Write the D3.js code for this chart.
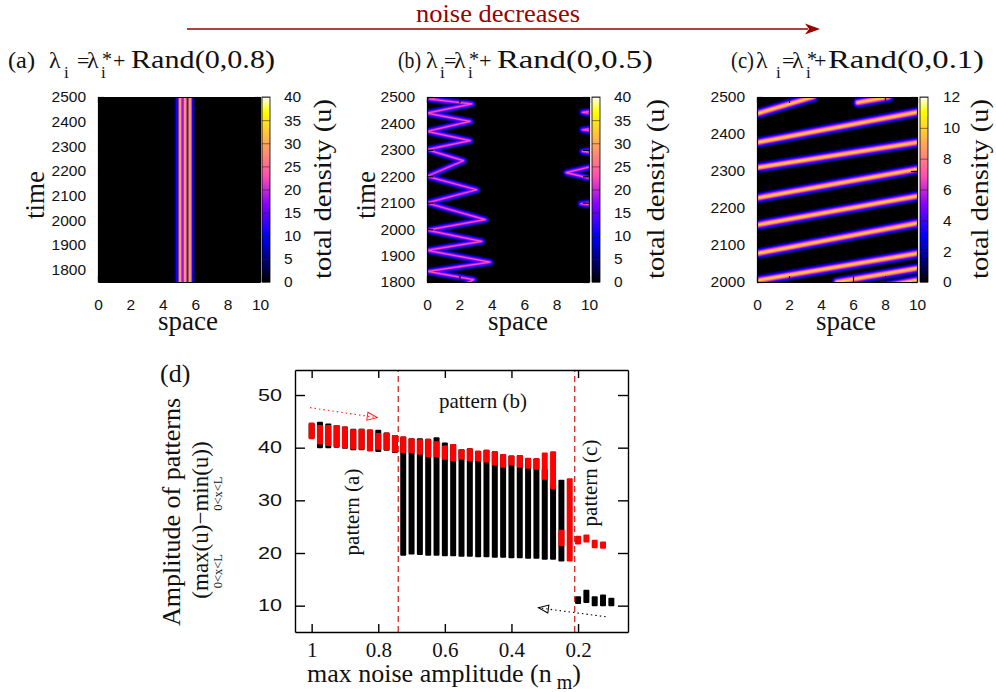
<!DOCTYPE html>
<meta charset="utf-8">
<style>
body { margin: 0; background: #fff; }
svg { display: block; }
</style>
<body>
<script src="https://cdn.jsdelivr.net/npm/d3@7/dist/d3.min.js"></script>
<script>
var W = 996, H = 692;
var SERIF = "'Liberation Serif', 'Times New Roman', serif",
    SANS = "'Liberation Sans', Arial, sans-serif";

// ---------- data ----------
var spaceTicks = [0, 2, 4, 6, 8, 10];
var timeTicksAB = [1800, 1900, 2000, 2100, 2200, 2300, 2400, 2500];
var timeTicksC = [2000, 2100, 2200, 2300, 2400, 2500];
var densTicks40 = [0, 5, 10, 15, 20, 25, 30, 35, 40];
var densTicks12 = [0, 2, 4, 6, 8, 10, 12];

// (a) stationary two-peak profile: band edges in space, density inside each band
var aEdges  = [4.72, 4.80, 4.97, 5.17, 5.28, 5.48, 5.58, 5.79, 5.90, 5.96];
var aLevels = [4, 11, 28, 18, 28, 14, 28, 11, 4];

// (b) zig-zag path of the moving peak (space, time)
var bSpace = [2.3, 2.87, 0.05, 3.89, 0.0, 3.38, 0.0, 3.59, 0.0, 3.07, 0.0, 2.25, 0.0, 2.66, 0.0, 2.66, 0.0, 2.77, 0.15, 1.6];
var bTime  = [1790, 1809, 1840, 1875, 1920, 1954, 1996, 2036, 2099, 2149, 2200, 2259, 2301, 2335, 2370, 2408, 2439, 2474, 2492, 2512];
// (b) short peaks entering from the right boundary
var bBlipTime  = [2442, 2376, 2294, 2214, 2096];
var bBlipSpace = [9.6, 9.6, 9.6, 8.6, 9.5];
var bBlipSpan  = [6, 6, 6, 25, 6];

// (c) travelling stripes: start / end points
var cX0 = [0, 0, 0, 0, 0, 0, 0, 0, 5.0, 6.3];
var cT0 = [1927, 2004, 2077, 2154, 2227, 2309, 2377, 2455, 2000, 2485];
var cX1 = [10, 10, 10, 10, 10, 10, 10, 3.5, 10, 8.2];
var cT1 = [2005, 2077, 2159, 2232, 2305, 2377, 2459, 2500, 2037, 2500];

// (d) amplitude ranges vs max noise amplitude
var noise = [1, 0.975, 0.95, 0.925, 0.9, 0.875, 0.85, 0.825, 0.8, 0.775, 0.75, 0.725, 0.7, 0.675, 0.65, 0.625,
             0.6, 0.575, 0.55, 0.525, 0.5, 0.475, 0.45, 0.425, 0.4, 0.375, 0.35, 0.325, 0.3, 0.275, 0.25, 0.225,
             0.2, 0.175, 0.15, 0.125, 0.1];
var blackHi = [44.6, 44.9, 44.6, 44.3, 44.0, 43.6, 43.6, 43.4, 43.4, 42.9, 42.4, 42.1, 41.8, 41.8, 41.7, 42.0,
               41.0, 40.7, 39.7, 39.9, 39.4, 39.6, 39.3, 38.8, 38.5, 38.6, 38.0, 38.0, 36.0, 33.0, 33.9, null,
               11.8, 13.0, 11.8, 12.1, 11.5];
var blackLo = [41.8, 39.9, 39.9, 40.0, 39.8, 39.5, 39.5, 39.3, 39.2, 39.4, 39.0, 19.5, 19.7, 19.6, 19.5, 19.5,
               19.4, 19.4, 19.3, 19.3, 19.2, 19.2, 19.1, 19.1, 19.0, 19.0, 18.9, 18.9, 18.7, 18.7, 18.4, null,
               10.3, 10.5, 9.9, 9.9, 9.9];
var redHi = [44.8, 44.3, 44.3, 44.3, 44.0, 43.5, 43.6, 43.5, 42.8, 42.9, 42.4, 42.1, 41.8, 41.6, 41.7, 41.2,
             40.4, 40.7, 39.7, 39.9, 39.4, 39.6, 39.3, 38.8, 38.5, 38.6, 38.1, 38.0, 39.1, 39.3, 24.4, 34.2,
             23.3, 23.5, 22.5, 22.2, null];
var redLo = [41.6, 40.6, 40.3, 40.1, 39.9, 39.7, 39.6, 39.3, 39.6, 39.5, 39.1, 39.0, 39.0, 38.65, 38.2, 38.2,
             37.7, 37.4, 37.7, 37.4, 37.4, 37.2, 36.6, 36.2, 36.6, 36.2, 36.0, 35.8, 33.9, 32.1, 21.3, 18.4,
             21.6, 22.0, 20.9, 20.8, null];
var noiseTicks = [1, 0.8, 0.6, 0.4, 0.2];
var ampTicks = [10, 20, 30, 40, 50];
var regimeBounds = [0.74, 0.21];
var redArrow = [[1.005, 47.6], [0.803, 45.7]];
var blackArrow = [[0.117, 7.9], [0.319, 9.6]];

// ---------- drawing ----------
var svg = d3.select("body").append("svg").attr("width", W).attr("height", H);
svg.append("rect").attr("width", W).attr("height", H).attr("fill", "#fff");
var defs = svg.append("defs");

// gnuplot rgbformulae 30,31,32
function palette(f) {
  f = Math.max(0, Math.min(1, f));
  var r = f / 0.32 - 0.78125,
      g = 2 * f - 0.84,
      b = f < 0.25 ? 4 * f : f < 0.42 ? 1 : f < 0.92 ? -2 * f + 1.84 : f / 0.08 - 11.5;
  var c = function (v) { return Math.round(255 * Math.max(0, Math.min(1, v))); };
  return d3.rgb(c(r), c(g), c(b)).formatHex();
}

function txt(parent, x, y, s, size, opts) {
  opts = opts || {};
  var t = parent.append("text").attr("x", x).attr("y", y)
    .attr("font-family", opts.sans ? SANS : SERIF)
    .attr("font-size", size)
    .attr("fill", opts.fill || "#111")
    .attr("text-anchor", opts.anchor || "start")
    .text(s);
  if (opts.rotate) t.attr("transform", "rotate(-90," + x + "," + y + ")");
  if (opts.len) t.attr("textLength", opts.len).attr("lengthAdjust", "spacingAndGlyphs");
  return t;
}

function labelAxis(sel, family, size) {
  sel.attr("font-family", family).attr("font-size", size);
  sel.select(".domain").remove();
  sel.selectAll("text").attr("fill", "#111");
  return sel;
}

function tickAxis(sel, w, color) {
  sel.selectAll("line, path").attr("stroke", color || "#000").attr("stroke-width", w);
  return sel;
}

var bLayers = [{v: 3, w: 8.5}, {v: 8, w: 6.5}, {v: 13, w: 4.6}, {v: 18, w: 2.8}, {v: 23, w: 1.2}];
var cLayers = [{v: 1.2, w: 11.5}, {v: 2.6, w: 9.5}, {v: 4.4, w: 7.4}, {v: 6.2, w: 5.4}, {v: 8.2, w: 3.6}, {v: 9.8, w: 1.6}];

function drawA(plot, x, y, col) {
  plot.selectAll(".band").data(aLevels).join("rect")
    .attr("class", "band")
    .attr("x", function (d, i) { return x(aEdges[i]); })
    .attr("width", function (d, i) { return x(aEdges[i + 1]) - x(aEdges[i]); })
    .attr("y", y.range()[1]).attr("height", y.range()[0] - y.range()[1])
    .attr("fill", function (d) { return col(d); });
}

function strokeLayers(plot, paths, layers, line, col) {
  layers.forEach(function (l) {
    plot.append("g").selectAll("path").data(paths).join("path")
      .attr("d", line).attr("fill", "none")
      .attr("stroke", col(l.v)).attr("stroke-width", l.w)
      .attr("stroke-linejoin", "round").attr("stroke-linecap", "round");
  });
}

function drawB(plot, x, y, col) {
  var line = d3.line().x(function (d) { return x(d[0]); }).y(function (d) { return y(d[1]); });
  var paths = [d3.zip(bSpace, bTime)];
  bBlipTime.forEach(function (t, i) {
    paths.push([[10.3, t + bBlipSpan[i]], [bBlipSpace[i], t], [10.3, t - bBlipSpan[i]]]);
  });
  strokeLayers(plot, paths, bLayers, line, col);
}

function drawC(plot, x, y, col) {
  var line = d3.line().x(function (d) { return x(d[0]); }).y(function (d) { return y(d[1]); });
  var segs = cX0.map(function (d, i) { return [[cX0[i], cT0[i]], [cX1[i], cT1[i]]]; });
  strokeLayers(plot, segs, cLayers, line, col);
}

var panels = [
  {id: "a", x0: 98, x1: 260, tDomain: [1750, 2500], tTicks: timeTicksAB, vmax: 40, cbTicks: densTicks40,
   cbX: 262, cbLabelX: 284, cbTitleX: 331, timeX: 44, spaceX: 188, draw: drawA},
  {id: "b", x0: 427, x1: 589, tDomain: [1800, 2500], tTicks: timeTicksAB, vmax: 40, cbTicks: densTicks40,
   cbX: 592, cbLabelX: 614, cbTitleX: 664, timeX: 375, spaceX: 518, draw: drawB},
  {id: "c", x0: 757, x1: 917, tDomain: [2000, 2500], tTicks: timeTicksC, vmax: 12, cbTicks: densTicks12,
   cbX: 920, cbLabelX: 943, cbTitleX: 988, timeX: null, spaceX: 846, draw: drawC}
];
var Y0 = 97, Y1 = 282, CBW = 8;

panels.forEach(function (p) {
  var x = d3.scaleLinear().domain([0, 10]).range([p.x0, p.x1]);
  var y = d3.scaleLinear().domain(p.tDomain).range([Y1, Y0]);
  var c = d3.scaleLinear().domain([0, p.vmax]).range([Y1, Y0]);
  var col = function (v) { return palette(v / p.vmax); };

  defs.append("clipPath").attr("id", "clip-" + p.id).append("rect")
    .attr("x", p.x0).attr("y", Y0).attr("width", p.x1 - p.x0).attr("height", Y1 - Y0);
  var g = svg.append("g");
  var plot = g.append("g").attr("clip-path", "url(#clip-" + p.id + ")");
  plot.append("rect").attr("x", p.x0).attr("y", Y0).attr("width", p.x1 - p.x0).attr("height", Y1 - Y0)
    .attr("fill", "#000");
  p.draw(plot, x, y, col);

  // inward black ticks
  tickAxis(g.append("g").attr("transform", "translate(0," + Y1 + ")")
    .call(d3.axisBottom(x).tickValues(spaceTicks).tickSize(-6).tickSizeOuter(0).tickFormat("")), 1.2);
  tickAxis(g.append("g").attr("transform", "translate(0," + Y0 + ")")
    .call(d3.axisTop(x).tickValues(spaceTicks).tickSize(-6).tickSizeOuter(0).tickFormat("")), 1.2);
  tickAxis(g.append("g").attr("transform", "translate(" + p.x0 + ",0)")
    .call(d3.axisLeft(y).tickValues(p.tTicks).tickSize(-6).tickSizeOuter(0).tickFormat("")), 1.2);
  tickAxis(g.append("g").attr("transform", "translate(" + p.x1 + ",0)")
    .call(d3.axisRight(y).tickValues(p.tTicks).tickSize(-6).tickSizeOuter(0).tickFormat("")), 1.2);

  // tick labels
  labelAxis(g.append("g").attr("transform", "translate(0," + Y1 + ")")
    .call(d3.axisBottom(x).tickValues(spaceTicks).tickSize(0).tickPadding(17)), SANS, 15.5);
  labelAxis(g.append("g").attr("transform", "translate(" + p.x0 + ",0)")
    .call(d3.axisLeft(y).tickValues(p.tTicks).tickSize(0).tickPadding(12).tickFormat(d3.format("d"))), SANS, 15.5);

  // colour box
  var gid = "grad-" + p.id;
  var grad = defs.append("linearGradient").attr("id", gid)
    .attr("x1", 0).attr("y1", 1).attr("x2", 0).attr("y2", 0);
  d3.range(0, 1.0001, 0.02).forEach(function (f) {
    grad.append("stop").attr("offset", f).attr("stop-color", palette(f));
  });
  g.append("rect").attr("x", p.cbX).attr("y", Y0).attr("width", CBW).attr("height", Y1 - Y0)
    .attr("fill", "url(#" + gid + ")").attr("stroke", "#000").attr("stroke-width", 0.8);
  var cbt = g.append("g").attr("transform", "translate(" + p.cbX + ",0)")
    .call(d3.axisRight(c).tickValues(p.cbTicks).tickSize(CBW).tickSizeOuter(0).tickFormat(""));
  cbt.select(".domain").remove();
  tickAxis(cbt, 1, "#222").attr("opacity", 0.55);
  labelAxis(g.append("g").attr("transform", "translate(" + p.cbX + ",0)")
    .call(d3.axisRight(c).tickValues(p.cbTicks).tickSize(0).tickPadding(p.cbLabelX - p.cbX)), SANS, 15.5);

  // axis titles
  txt(svg, p.spaceX, 330, "space", 27, {anchor: "middle"});
  if (p.timeX) txt(svg, p.timeX, 195, "time", 27, {anchor: "middle", rotate: true});
  txt(svg, p.cbTitleX, 189, "total density (u)", 26, {anchor: "middle", rotate: true, len: 180});
});

// panel titles  λ_i = λ*_i + Rand(...)
function lambdaTitle(tag, rand, pos) {
  var base = 68;
  txt(svg, pos[0], base, tag, 24, {len: pos[9]});
  txt(svg, pos[1], base, "\u03bb", 24);
  txt(svg, pos[2], base + 10, "i", 17);
  txt(svg, pos[3], base, "=", 22);
  txt(svg, pos[4], base, "\u03bb", 24);
  txt(svg, pos[5] + 1, base - 2, "*", 20);
  txt(svg, pos[5], base + 10, "i", 17);
  txt(svg, pos[6], base, "+", 22);
  txt(svg, pos[7], base, rand, 25, {len: pos[8]});
}
lambdaTitle("(a)", "Rand(0,0.8)", [8, 49, 64, 77, 87, 101, 113, 131, 144, 27]);
lambdaTitle("(b)", "Rand(0,0.5)", [398, 426, 440, 444, 454, 468, 479, 497, 156, 23]);
lambdaTitle("(c)", "Rand(0,0.1)", [731, 756, 776, 782, 792, 806, 814, 828, 156, 23]);

// top arrow
svg.append("line").attr("x1", 187).attr("x2", 808).attr("y1", 29).attr("y2", 29)
  .attr("stroke", "#990000").attr("stroke-width", 1.6);
svg.append("path").attr("d", "M820,29 L805,23.5 L809,29 L805,34.5 Z").attr("fill", "#990000");
txt(svg, 498, 22, "noise decreases", 26, {anchor: "middle", fill: "#990000", len: 164});

// ---------- panel (d) ----------
var dg = svg.append("g");
var dx = d3.scaleLinear().domain([1.05, 0.05]).range([295, 628]);
var dy = d3.scaleLinear().domain([5, 54.75]).range([632, 370]);
var barW = Math.abs(dx(0) - dx(0.018));
var idx = d3.range(noise.length);

dg.append("g").selectAll("rect").data(idx.filter(function (i) { return blackLo[i] != null; })).join("rect")
  .attr("x", function (i) { return dx(noise[i]) - barW / 2; }).attr("width", barW)
  .attr("y", function (i) { return dy(blackHi[i]); })
  .attr("height", function (i) { return dy(blackLo[i]) - dy(blackHi[i]); })
  .attr("rx", 1).attr("fill", "#000");
dg.append("g").selectAll("rect").data(idx.filter(function (i) { return redLo[i] != null; })).join("rect")
  .attr("x", function (i) { return dx(noise[i]) - barW / 2; }).attr("width", barW)
  .attr("y", function (i) { return dy(redHi[i]); })
  .attr("height", function (i) { return dy(redLo[i]) - dy(redHi[i]); })
  .attr("rx", 1).attr("fill", "#ff0000");

dg.selectAll(".regime").data(regimeBounds).join("line").attr("class", "regime")
  .attr("x1", dx).attr("x2", dx).attr("y1", dy.range()[0]).attr("y2", dy.range()[1])
  .attr("stroke", "#d01818").attr("stroke-width", 1.2).attr("stroke-dasharray", "6,4");

// dotted arrows
[["red", "#ff2020", redArrow], ["blk", "#000", blackArrow]].forEach(function (a) {
  defs.append("marker").attr("id", "head-" + a[0]).attr("viewBox", "0 0 12 10")
    .attr("refX", 11).attr("refY", 5).attr("markerWidth", 12).attr("markerHeight", 10)
    .attr("markerUnits", "userSpaceOnUse").attr("orient", "auto")
    .append("path").attr("d", "M1,1 L11,5 L1,9 Z").attr("fill", "none").attr("stroke", a[1]).attr("stroke-width", 1);
  dg.append("line")
    .attr("x1", dx(a[2][0][0])).attr("y1", dy(a[2][0][1]))
    .attr("x2", dx(a[2][1][0])).attr("y2", dy(a[2][1][1]))
    .attr("stroke", a[1]).attr("stroke-width", 1.1).attr("stroke-dasharray", "1.5,3")
    .attr("marker-end", "url(#head-" + a[0] + ")");
});

// frame + inward ticks
tickAxis(dg.append("g").attr("transform", "translate(0,632)")
  .call(d3.axisBottom(dx).tickValues(noiseTicks).tickSize(-8).tickSizeOuter(0).tickFormat("")), 1.4);
tickAxis(dg.append("g").attr("transform", "translate(0,370)")
  .call(d3.axisTop(dx).tickValues(noiseTicks).tickSize(-8).tickSizeOuter(0).tickFormat("")), 1.4);
tickAxis(dg.append("g").attr("transform", "translate(295,0)")
  .call(d3.axisLeft(dy).tickValues(ampTicks).tickSize(-10).tickSizeOuter(0).tickFormat("")), 1.4);
tickAxis(dg.append("g").attr("transform", "translate(628,0)")
  .call(d3.axisRight(dy).tickValues(ampTicks).tickSize(-10).tickSizeOuter(0).tickFormat("")), 1.4);

labelAxis(dg.append("g").attr("transform", "translate(0,632)")
  .call(d3.axisBottom(dx).tickValues(noiseTicks).tickSize(0).tickPadding(10)
    .tickFormat(function (d) { return String(d); })), SERIF, 21);
var yTickLab = labelAxis(dg.append("g").attr("transform", "translate(295,0)")
  .call(d3.axisLeft(dy).tickValues(ampTicks).tickSize(0).tickPadding(13)), SANS, 16);
yTickLab.selectAll("text").attr("textLength", 24).attr("lengthAdjust", "spacingAndGlyphs");

// (d) labels
txt(svg, 160, 382, "(d)", 26);
txt(svg, 483, 408, "pattern (b)", 21, {anchor: "middle"});
txt(svg, 359, 512, "pattern (a)", 21, {anchor: "middle", rotate: true});
txt(svg, 597, 483, "pattern (c)", 21, {anchor: "middle", rotate: true});

var xlab = svg.append("text").attr("x", 307).attr("y", 682)
  .attr("font-family", SERIF).attr("font-size", 26).attr("fill", "#111");
xlab.append("tspan").text("max noise amplitude (n");
xlab.append("tspan").attr("dx", 5).attr("dy", 7).attr("font-size", 20).text("m");
xlab.append("tspan").attr("dy", -7).text(")");

txt(svg, 180, 512, "Amplitude of patterns", 26, {anchor: "middle", rotate: true});

// second y-label line with subscripts under max / min
var yl = svg.append("g").attr("transform", "translate(208,520) rotate(-90)");
var pieces = [["(", false], ["max", true], ["(u)\u2212", false], ["min", true], ["(u))", false]];
var cursor = 0;
pieces.forEach(function (pc) {
  var t = yl.append("text").attr("x", cursor).attr("y", 0)
    .attr("font-family", SERIF).attr("font-size", 23).attr("fill", "#111").text(pc[0]);
  var w = t.node().getComputedTextLength();
  if (pc[1]) {
    yl.append("text").attr("x", cursor + w / 2).attr("y", 14).attr("text-anchor", "middle")
      .attr("font-family", SERIF).attr("font-size", 12.5).attr("fill", "#111").text("0<x<L");
  }
  cursor += w;
});
yl.selectAll("text").attr("transform", "translate(" + (-cursor / 2) + ",0)");
</script>
</body>
